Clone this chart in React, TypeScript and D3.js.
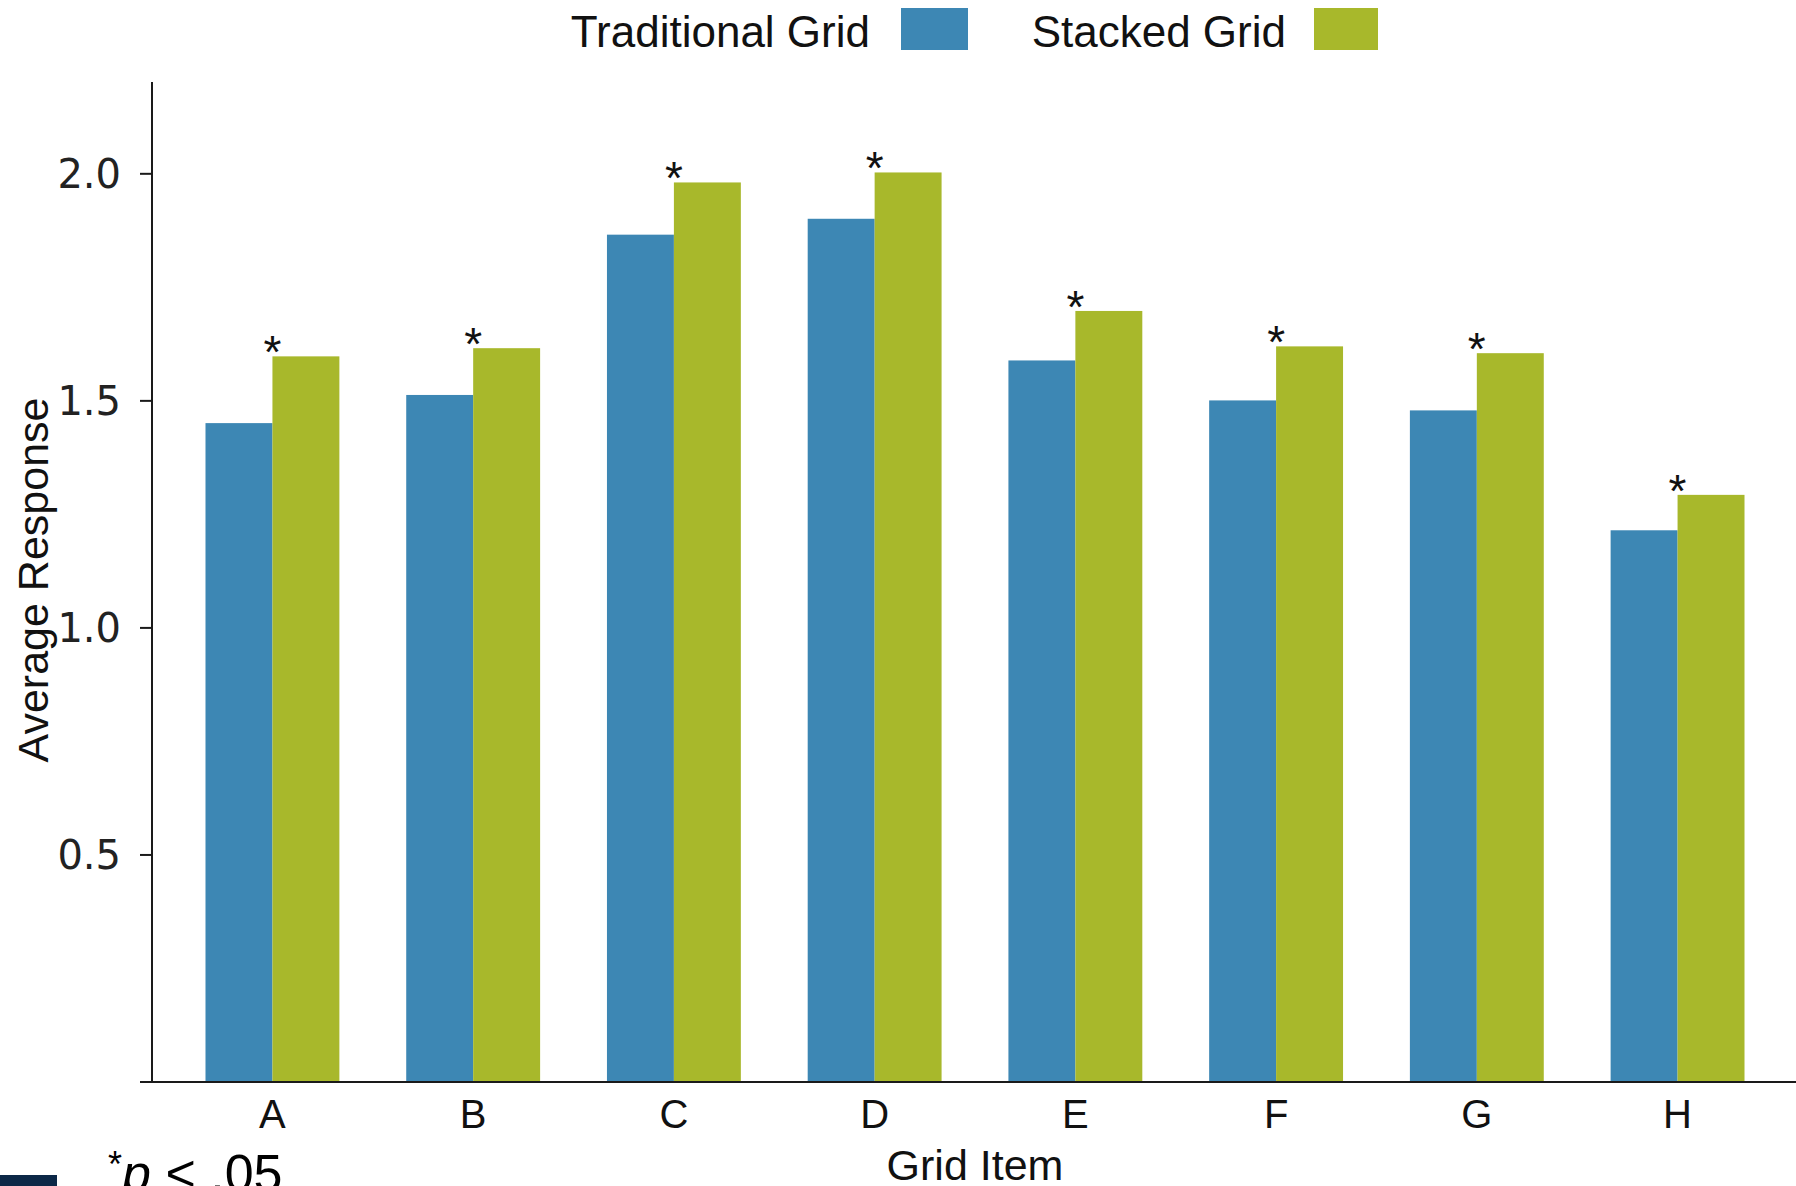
import React from "react";
import * as d3 from "d3";

// values
const categories = ["A", "B", "C", "D", "E", "F", "G", "H"];
const traditional = [1.451, 1.513, 1.866, 1.901, 1.589, 1.501, 1.479, 1.215];
const stacked = [1.598, 1.616, 1.981, 2.003, 1.698, 1.62, 1.605, 1.293];
const significant = [true, true, true, true, true, true, true, true];
const yTicks = [0.5, 1.0, 1.5, 2.0];
const seriesNames = ["Traditional Grid", "Stacked Grid"];

const W = 1796,
  H = 1186;
const BLUE = "#3d87b4";
const GREEN = "#a8b82b";
const SANS = "'Liberation Sans', Arial, sans-serif";

export default function App() {
  const margin = { top: 82, right: -2, bottom: 104, left: 152 };
  const y0 = H - margin.bottom;

  const x = d3
    .scaleBand<string>()
    .domain(categories)
    .range([margin.left, W - margin.right])
    .paddingInner(0.333)
    .paddingOuter(0.2665);

  const xInner = d3
    .scaleBand<string>()
    .domain(["trad", "stacked"])
    .range([0, x.bandwidth()]);

  const y = d3.scaleLinear().domain([0, 2.2]).range([y0, margin.top + 1]);

  const rows = categories.map((c, i) => ({
    cat: c,
    trad: traditional[i],
    stacked: stacked[i],
    sig: significant[i],
  }));

  return (
    <div style={{ position: "absolute", left: 0, top: 0 }}>
      <svg width={W} height={H} style={{ display: "block", background: "#fff" }}>
        {/* legend */}
        <g fontFamily={SANS} fontSize={44} fill="#111">
          <text x={870} y={47} textAnchor="end">{seriesNames[0]}</text>
          <rect x={901} y={8} width={67} height={42} fill={BLUE} />
          <text x={1286} y={47} textAnchor="end">{seriesNames[1]}</text>
          <rect x={1314} y={8} width={64} height={42} fill={GREEN} />
        </g>

        {/* bars */}
        {rows.map((d) => (
          <g key={d.cat} transform={`translate(${x(d.cat)},0)`}>
            <rect
              x={xInner("trad")}
              y={y(d.trad)}
              width={xInner.bandwidth()}
              height={y0 - y(d.trad)}
              fill={BLUE}
            />
            <rect
              x={xInner("stacked")}
              y={y(d.stacked)}
              width={xInner.bandwidth()}
              height={y0 - y(d.stacked)}
              fill={GREEN}
            />
            {d.sig && (
              <text
                x={x.bandwidth() / 2}
                y={y(Math.max(d.trad, d.stacked)) + 12}
                textAnchor="middle"
                fontFamily={SANS}
                fontSize={46}
                fill="#111"
              >
                *
              </text>
            )}
          </g>
        ))}

        {/* axes */}
        <line x1={margin.left} x2={margin.left} y1={margin.top} y2={y0} stroke="#1a1a1a" strokeWidth={2} />
        <line x1={140} x2={W} y1={y0} y2={y0} stroke="#1a1a1a" strokeWidth={2} />

        {yTicks.map((t) => (
          <g key={t} transform={`translate(0,${y(t)})`}>
            <line x1={140} x2={margin.left} stroke="#1a1a1a" strokeWidth={2} />
            <text
              x={121}
              dy="0.36em"
              textAnchor="end"
              fontFamily="'DejaVu Sans', Verdana, sans-serif"
              fontSize={40}
              fill="#222"
            >
              {d3.format(".1f")(t)}
            </text>
          </g>
        ))}

        {categories.map((c) => (
          <text
            key={c}
            x={x(c)! + x.bandwidth() / 2}
            y={1128}
            textAnchor="middle"
            fontFamily={SANS}
            fontSize={40}
            fill="#111"
          >
            {c}
          </text>
        ))}

        {/* axis titles */}
        <text
          transform={`translate(48,580) rotate(-90)`}
          textAnchor="middle"
          fontFamily={SANS}
          fontSize={43}
          fill="#111"
        >
          Average Response
        </text>
        <text x={975} y={1180} textAnchor="middle" fontFamily={SANS} fontSize={43} fill="#111">
          Grid Item
        </text>

        {/* footnote */}
        <rect x={0} y={1175} width={57} height={11} fill="#0c2847" />
        <text x={108} y={1191} fontFamily={SANS} fontSize={52} fill="#000">
          <tspan fontSize={36} dy={-14}>*</tspan>
          <tspan fontStyle="italic" dy={14}>p</tspan>
          <tspan> &lt; .05</tspan>
        </text>
      </svg>
    </div>
  );
}
